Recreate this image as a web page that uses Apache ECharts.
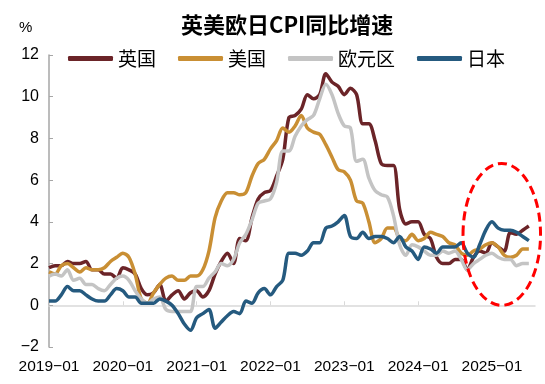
<!DOCTYPE html>
<html>
<head>
<meta charset="utf-8">
<script src="https://cdn.jsdelivr.net/npm/echarts@6/dist/echarts.min.js"></script>
<style>
html,body{margin:0;padding:0;background:#fff;}
#c{width:545px;height:384px;}
</style>
</head>
<body>
<div id="c"></div>
<script>
// ---- data ----
const months = [];
for (let y = 2019; y <= 2025; y++) {
  for (let m = 1; m <= 12; m++) {
    if (y === 2025 && m > 8) break;
    months.push(y + '-' + (m < 10 ? '0' + m : '' + m));
  }
}
const seriesNames = ['英国', '美国', '欧元区', '日本'];
const uk = [
  1.8,1.9,1.9,2.1,2.0,2.0,2.1,1.7,1.7,1.5,1.5,1.3,
  1.8,1.7,1.5,0.8,0.5,0.6,1.0,0.2,0.5,0.7,0.3,0.6,
  0.7,0.4,0.7,1.5,2.1,2.5,2.0,3.2,3.1,4.2,5.1,5.4,
  5.5,6.2,7.0,9.0,9.1,9.4,10.1,9.9,10.1,11.1,10.7,10.5,
  10.1,10.4,10.1,8.7,8.7,7.9,6.8,6.7,6.7,4.6,3.9,4.0,
  4.0,3.4,3.2,2.3,2.0,2.0,2.2,2.2,1.7,2.3,2.6,2.5,
  3.0,2.8,2.6,3.5,3.4,3.6,3.8
];
const us = [
  1.6,1.5,1.9,2.0,1.8,1.6,1.8,1.7,1.7,1.8,2.1,2.3,
  2.5,2.3,1.5,0.3,0.1,0.6,1.0,1.3,1.4,1.2,1.2,1.4,
  1.4,1.7,2.6,4.2,5.0,5.4,5.4,5.3,5.4,6.2,6.8,7.0,
  7.5,7.9,8.5,8.3,8.6,9.1,8.5,8.3,8.2,7.7,7.1,6.5,
  6.4,6.0,5.0,4.9,4.0,3.0,3.2,3.7,3.7,3.2,3.1,3.4,
  3.1,3.2,3.5,3.4,3.3,3.0,2.9,2.5,2.4,2.6,2.7,2.9,
  3.0,2.8,2.4,2.3,2.4,2.7,2.7
];
const ea = [
  1.4,1.5,1.4,1.7,1.2,1.3,1.0,1.0,0.8,0.7,1.0,1.3,
  1.4,1.2,0.7,0.3,0.1,0.3,0.4,-0.2,-0.3,-0.3,-0.3,-0.3,
  0.9,0.9,1.3,1.6,2.0,1.9,2.2,3.0,3.4,4.1,4.9,5.0,
  5.1,5.9,7.4,7.4,8.1,8.6,8.9,9.1,9.9,10.6,10.1,9.2,
  8.6,8.5,6.9,7.0,6.1,5.5,5.3,5.2,4.3,2.9,2.4,2.9,
  2.8,2.6,2.4,2.4,2.6,2.5,2.6,2.2,1.7,2.0,2.2,2.4,
  2.5,2.3,2.2,2.2,1.9,2.0,2.0
];
const jp = [
  0.2,0.2,0.5,0.9,0.7,0.7,0.5,0.3,0.2,0.2,0.5,0.8,
  0.7,0.4,0.4,0.1,0.1,0.1,0.3,0.2,0.0,-0.4,-0.9,-1.2,
  -0.6,-0.4,-0.2,-1.1,-0.8,-0.5,-0.3,-0.4,0.2,0.1,0.6,0.8,
  0.5,0.9,1.2,2.5,2.5,2.4,2.6,3.0,3.0,3.7,3.8,4.0,
  4.3,3.3,3.2,3.5,3.2,3.3,3.3,3.2,3.0,3.3,2.8,2.6,
  2.2,2.8,2.7,2.5,2.8,2.8,2.8,3.0,2.5,2.3,2.9,3.6,
  4.0,3.7,3.6,3.6,3.5,3.3,3.1
];
const yTicks = { min: -2, max: 12, interval: 2 };
const colors = ['#6b2428', '#c98f34', '#c4c4c4', '#255a7f'];
// annotation ellipse (in data units: month index, value)
const ring = { cIdx: 73.6, cVal: 3.4, rMonths: 6.3, rVal: 3.4 };

const chart = echarts.init(document.getElementById('c'), null, { renderer: 'canvas' });
const dataSets = [uk, us, ea, jp];
const FONT = '"Liberation Sans", Arial, sans-serif';
const CJK = '"Noto Sans CJK SC", "Noto Sans", sans-serif';
const fixMinus = v => String(v).replace(/-/g, '\u2212');

chart.setOption({
  animation: false,
  backgroundColor: '#fff',
  title: [
    { text: '英美欧日CPI同比增速', left: 176, top: 9,
      textStyle: { fontFamily: CJK, fontSize: 22, fontWeight: 'bold', color: '#000' } },
    { text: '%', left: 14, top: 15,
      textStyle: { fontFamily: FONT, fontSize: 15, fontWeight: 'normal', color: '#000' } }
  ],
  legend: {
    data: seriesNames,
    left: 66, top: 47,
    icon: 'roundRect', itemWidth: 45, itemHeight: 5, itemGap: 22,
    backgroundColor: '#fff', padding: [2, 2, 4, 2],
    textStyle: { fontFamily: CJK, fontSize: 19, color: '#000', padding: [0, 0, 0, 0] }
  },
  grid: { left: 49, right: 10, top: 55, bottom: 37 },
  xAxis: [
    {
      type: 'category', data: months, boundaryGap: false,
      axisLine: { onZero: true, lineStyle: { color: '#d9d9d9', width: 1.5 } },
      axisTick: { show: true, inside: true, length: 4, interval: 11, lineStyle: { color: '#d9d9d9' } },
      axisLabel: { show: false }, splitLine: { show: false }
    },
    {
      type: 'category', data: months, boundaryGap: false, position: 'bottom',
      axisLine: { show: false }, axisTick: { show: false },
      axisLabel: { interval: 11, margin: 12, fontFamily: FONT, fontSize: 15.5, color: '#000',
        formatter: fixMinus }
    }
  ],
  yAxis: {
    type: 'value', min: yTicks.min, max: yTicks.max, interval: yTicks.interval,
    axisLine: { show: true, onZero: false, lineStyle: { color: '#a6a6a6', width: 1.5 } },
    axisTick: { show: true, inside: true, length: 4, lineStyle: { color: '#a6a6a6' } },
    splitLine: { show: false },
    axisLabel: { margin: 10, fontFamily: FONT, fontSize: 16, color: '#000', formatter: fixMinus }
  },
  series: seriesNames.map((n, i) => ({
    name: n, type: 'line', data: dataSets[i], xAxisIndex: 0,
    symbol: 'none', smooth: 0.3,
    lineStyle: { color: colors[i], width: 3.5 },
    itemStyle: { color: colors[i] }
  }))
});

// draw the red dashed annotation ellipse positioned from data coords
const p0 = chart.convertToPixel({ xAxisIndex: 0 }, 72);
const p1 = chart.convertToPixel({ xAxisIndex: 0 }, 78);
const perMonth = (p1 - p0) / 6;
const y0 = chart.convertToPixel({ yAxisIndex: 0 }, 0);
const y2 = chart.convertToPixel({ yAxisIndex: 0 }, 2);
const perUnit = (y0 - y2) / 2;
chart.setOption({
  graphic: [{
    type: 'ellipse', z: 100,
    shape: {
      cx: p0 + (ring.cIdx - 72) * perMonth,
      cy: y0 - ring.cVal * perUnit,
      rx: ring.rMonths * perMonth,
      ry: ring.rVal * perUnit
    },
    style: { fill: 'none', stroke: '#ff0000', lineWidth: 3, lineDash: [9, 5] }
  }]
});
</script>
</body>
</html>
